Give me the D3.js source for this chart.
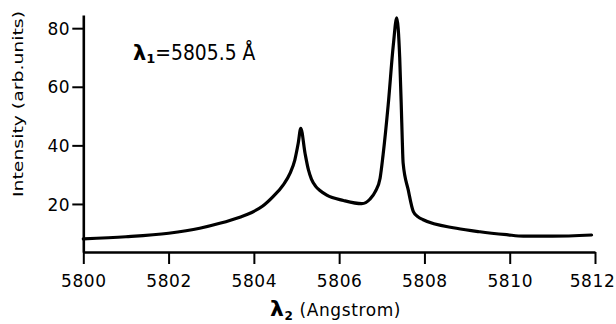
<!DOCTYPE html>
<html><head><meta charset="utf-8">
<script src="https://cdn.jsdelivr.net/npm/d3@7"></script>
<style>body{margin:0;background:#fff}svg{display:block}</style>
</head><body>
<svg id="c" width="616" height="324"></svg>
<script>
const wavelength = [5800, 5801, 5802, 5802.73, 5803.2, 5803.67, 5803.95, 5804.2, 5804.45, 5804.69, 5804.85, 5804.96, 5805.04, 5805.1, 5805.2, 5805.28, 5805.35, 5805.45, 5805.55, 5805.71, 5806.1, 5806.53, 5806.72, 5806.85, 5806.96, 5807.03, 5807.15, 5807.27, 5807.35, 5807.42, 5807.46, 5807.48, 5807.5, 5807.62, 5807.74, 5807.85, 5807.97, 5808.75, 5809.3, 5809.93, 5810.32, 5811, 5811.92];
const intensity = [8.1, 8.8, 10.0, 11.7, 13.4, 15.5, 17.1, 19.2, 22.5, 26.5, 30.5, 35.0, 40.7, 45.8, 37.3, 31.6, 28.5, 26.0, 24.6, 23.0, 21.2, 20.1, 21.6, 24.3, 28.8, 36.7, 53.8, 74.2, 83.5, 70.0, 52.0, 42.0, 34.0, 24.8, 17.4, 15.6, 14.6, 11.7, 10.5, 9.5, 9.0, 9.0, 9.4];
const xTicks = [5800, 5802, 5804, 5806, 5808, 5810, 5812];
const yTicks = [20, 40, 60, 80];

const svg = d3.select("#c");
const x = d3.scaleLinear().domain([5800, 5812]).range([83.3, 595]);
const y = d3.scaleLinear().domain([3.6, 84.5]).range([252, 15]);
const font = "'DejaVu Sans', sans-serif";

const xAxis = svg.append("g").attr("transform", "translate(0,252)")
  .call(d3.axisBottom(x).tickValues(xTicks).tickFormat(d3.format("d")).tickSize(12).tickSizeOuter(0).tickPadding(6));
const yAxis = svg.append("g").attr("transform", "translate(83.3,0)")
  .call(d3.axisLeft(y).tickValues(yTicks).tickSize(11).tickSizeOuter(0).tickPadding(2));
[xAxis, yAxis].forEach(a => {
  a.select(".domain").attr("stroke", "#000").attr("stroke-width", 2.6);
  a.selectAll(".tick line").attr("stroke", "#000").attr("stroke-width", 2);
  a.selectAll(".tick text").attr("fill", "#000").style("font-family", font).style("font-size", "17px").style("letter-spacing", "0.6px");
});
xAxis.selectAll(".tick text").attr("dy", "1em");
xAxis.selectAll(".tick text").filter(d => d === 5812).attr("dx", -3);
yAxis.selectAll(".tick text").attr("dy", "0.36em");

svg.append("path").datum(wavelength.map((w, i) => [w, intensity[i]]))
  .attr("fill", "none").attr("stroke", "#000").attr("stroke-width", 3.2)
  .attr("stroke-linejoin", "round").attr("stroke-linecap", "round")
  .attr("d", d3.line().x(d => x(d[0])).y(d => y(d[1])).curve(d3.curveMonotoneX));

// y label
svg.append("text").attr("transform", "translate(23,104) rotate(-90)")
  .attr("text-anchor", "middle").style("font-family", font).style("font-size", "14px")
  .attr("textLength", 186).attr("lengthAdjust", "spacingAndGlyphs")
  .text("Intensity (arb.units)");

// x label
const xl = svg.append("text").attr("x", 270).attr("y", 316).style("font-family", font).style("font-size", "17px").style("letter-spacing", "0.6px");
xl.append("tspan").style("font-size", "22px").style("font-weight", "bold").text("λ");
xl.append("tspan").attr("dy", 4).style("font-size", "12px").style("font-weight", "bold").text("2");
xl.append("tspan").attr("dy", -4).text(" (Angstrom)");

// annotation
const an = svg.append("text").attr("x", 133).attr("y", 60).style("font-family", font).style("font-size", "21px");
an.append("tspan").style("font-weight", "bold").text("λ");
an.append("tspan").attr("dy", 3).style("font-size", "13px").style("font-weight", "bold").text("1");
an.append("tspan").attr("dy", -3).attr("textLength", 100).attr("lengthAdjust", "spacingAndGlyphs").text("=5805.5 Å");
</script>
</body></html>
